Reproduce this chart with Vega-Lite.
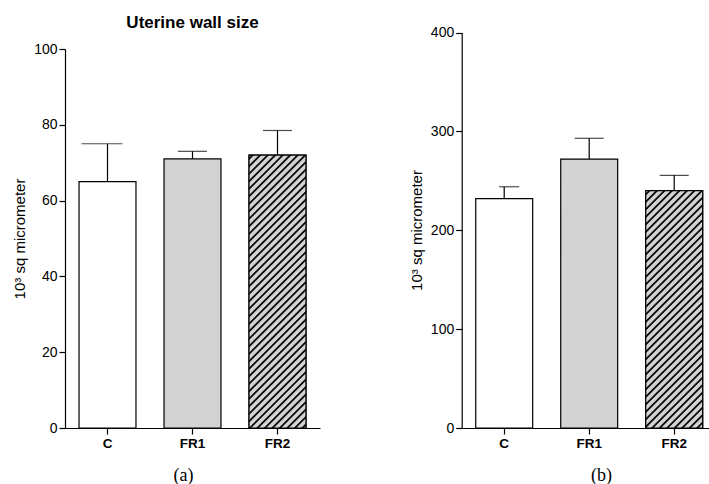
{
"$schema": "https://vega.github.io/schema/vega-lite/v6.json",
"width": 644, "height": 428,
"autosize": {"type": "none"},
"padding": {"left": 65, "top": 0, "right": 0, "bottom": 56},
"background": "white",
"title": {"text": "Uterine wall size", "anchor": "middle", "frame": "group", "dx": -194.5, "dy": 45, "baseline": "alphabetic", "fontSize": 17, "font": "Liberation Sans", "fontWeight": "bold", "color": "#000", "offset": 0},
"data": {"values": [
{"panel": "a", "group": "C", "mean": 65, "upper": 75},
{"panel": "a", "group": "FR1", "mean": 71, "upper": 73},
{"panel": "a", "group": "FR2", "mean": 72, "upper": 78.5},
{"panel": "b", "group": "C", "mean": 232, "upper": 244},
{"panel": "b", "group": "FR1", "mean": 272, "upper": 293},
{"panel": "b", "group": "FR2", "mean": 240, "upper": 255.5}
]},
"config": {"view": {"stroke": null}, "axis": {"grid": false, "domainColor": "#000", "tickColor": "#000", "labelColor": "#000", "titleColor": "#000", "labelFont": "Liberation Sans", "titleFont": "Liberation Sans", "domainWidth": 1.2, "tickWidth": 1.2, "tickSize": 6}},
"layer": [
{
"transform": [{"filter": "datum.panel === 'a'"}],
"encoding": {
"x": {"field": "group", "type": "nominal", "scale": {"domain": ["C", "FR1", "FR2"], "range": [0, 255], "paddingInner": 0.33, "paddingOuter": 0.165}, "axis": {"orient": "bottom", "labelAngle": 0, "labelFontWeight": "bold", "labelFontSize": 13.5, "labelPadding": 2, "title": "(a)", "titleFont": "Liberation Serif", "titleFontSize": 18, "titleFontWeight": "normal", "titleX": 118, "titleY": 52, "titleBaseline": "alphabetic", "titleAlign": "center"}},
"y": {"field": "mean", "type": "quantitative", "scale": {"domain": [0, 100], "range": [428, 49], "nice": false}, "axis": {"orient": "left", "values": [0, 20, 40, 60, 80, 100], "labelFontSize": 14, "labelPadding": 2, "title": "10³ sq micrometer", "titleFontSize": 15, "titleFontWeight": "normal", "titleX": -41, "titleY": 238.5, "titleBaseline": "alphabetic", "titleAlign": "center"}}
},
"layer": [
{"mark": {"type": "bar", "stroke": "#000", "strokeWidth": 1.2}, "encoding": {"fill": {"field": "group", "type": "nominal", "scale": {"domain": ["C", "FR1", "FR2"], "range": ["#ffffff", "#d3d3d3", "#d3d3d3"]}, "legend": null}}},
{"transform": [{"filter": "datum.group === 'FR2'"}], "mark": {"type": "bar", "stroke": "#000", "strokeWidth": 1.2, "fill": {"gradient": "linear", "x1": 0, "y1": 0, "x2": 0.27483, "y2": 1.31688, "stops": [
{"offset":0.005,"color":"#d3d3d3"},{"offset":0.008,"color":"#111"},{"offset":0.012,"color":"#111"},{"offset":0.015,"color":"#d3d3d3"},
{"offset":0.025,"color":"#d3d3d3"},{"offset":0.028,"color":"#111"},{"offset":0.032,"color":"#111"},{"offset":0.035,"color":"#d3d3d3"},
{"offset":0.045,"color":"#d3d3d3"},{"offset":0.048,"color":"#111"},{"offset":0.052,"color":"#111"},{"offset":0.055,"color":"#d3d3d3"},
{"offset":0.065,"color":"#d3d3d3"},{"offset":0.068,"color":"#111"},{"offset":0.072,"color":"#111"},{"offset":0.075,"color":"#d3d3d3"},
{"offset":0.085,"color":"#d3d3d3"},{"offset":0.088,"color":"#111"},{"offset":0.092,"color":"#111"},{"offset":0.095,"color":"#d3d3d3"},
{"offset":0.105,"color":"#d3d3d3"},{"offset":0.108,"color":"#111"},{"offset":0.112,"color":"#111"},{"offset":0.115,"color":"#d3d3d3"},
{"offset":0.125,"color":"#d3d3d3"},{"offset":0.128,"color":"#111"},{"offset":0.132,"color":"#111"},{"offset":0.135,"color":"#d3d3d3"},
{"offset":0.145,"color":"#d3d3d3"},{"offset":0.148,"color":"#111"},{"offset":0.152,"color":"#111"},{"offset":0.155,"color":"#d3d3d3"},
{"offset":0.165,"color":"#d3d3d3"},{"offset":0.168,"color":"#111"},{"offset":0.172,"color":"#111"},{"offset":0.175,"color":"#d3d3d3"},
{"offset":0.185,"color":"#d3d3d3"},{"offset":0.188,"color":"#111"},{"offset":0.192,"color":"#111"},{"offset":0.195,"color":"#d3d3d3"},
{"offset":0.205,"color":"#d3d3d3"},{"offset":0.208,"color":"#111"},{"offset":0.212,"color":"#111"},{"offset":0.215,"color":"#d3d3d3"},
{"offset":0.225,"color":"#d3d3d3"},{"offset":0.228,"color":"#111"},{"offset":0.232,"color":"#111"},{"offset":0.235,"color":"#d3d3d3"},
{"offset":0.245,"color":"#d3d3d3"},{"offset":0.248,"color":"#111"},{"offset":0.252,"color":"#111"},{"offset":0.255,"color":"#d3d3d3"},
{"offset":0.265,"color":"#d3d3d3"},{"offset":0.268,"color":"#111"},{"offset":0.272,"color":"#111"},{"offset":0.275,"color":"#d3d3d3"},
{"offset":0.285,"color":"#d3d3d3"},{"offset":0.288,"color":"#111"},{"offset":0.292,"color":"#111"},{"offset":0.295,"color":"#d3d3d3"},
{"offset":0.305,"color":"#d3d3d3"},{"offset":0.308,"color":"#111"},{"offset":0.312,"color":"#111"},{"offset":0.315,"color":"#d3d3d3"},
{"offset":0.325,"color":"#d3d3d3"},{"offset":0.328,"color":"#111"},{"offset":0.332,"color":"#111"},{"offset":0.335,"color":"#d3d3d3"},
{"offset":0.345,"color":"#d3d3d3"},{"offset":0.348,"color":"#111"},{"offset":0.352,"color":"#111"},{"offset":0.355,"color":"#d3d3d3"},
{"offset":0.365,"color":"#d3d3d3"},{"offset":0.368,"color":"#111"},{"offset":0.372,"color":"#111"},{"offset":0.375,"color":"#d3d3d3"},
{"offset":0.385,"color":"#d3d3d3"},{"offset":0.388,"color":"#111"},{"offset":0.392,"color":"#111"},{"offset":0.395,"color":"#d3d3d3"},
{"offset":0.405,"color":"#d3d3d3"},{"offset":0.408,"color":"#111"},{"offset":0.412,"color":"#111"},{"offset":0.415,"color":"#d3d3d3"},
{"offset":0.425,"color":"#d3d3d3"},{"offset":0.428,"color":"#111"},{"offset":0.432,"color":"#111"},{"offset":0.435,"color":"#d3d3d3"},
{"offset":0.445,"color":"#d3d3d3"},{"offset":0.448,"color":"#111"},{"offset":0.452,"color":"#111"},{"offset":0.455,"color":"#d3d3d3"},
{"offset":0.465,"color":"#d3d3d3"},{"offset":0.468,"color":"#111"},{"offset":0.472,"color":"#111"},{"offset":0.475,"color":"#d3d3d3"},
{"offset":0.485,"color":"#d3d3d3"},{"offset":0.488,"color":"#111"},{"offset":0.492,"color":"#111"},{"offset":0.495,"color":"#d3d3d3"},
{"offset":0.505,"color":"#d3d3d3"},{"offset":0.508,"color":"#111"},{"offset":0.512,"color":"#111"},{"offset":0.515,"color":"#d3d3d3"},
{"offset":0.525,"color":"#d3d3d3"},{"offset":0.528,"color":"#111"},{"offset":0.532,"color":"#111"},{"offset":0.535,"color":"#d3d3d3"},
{"offset":0.545,"color":"#d3d3d3"},{"offset":0.548,"color":"#111"},{"offset":0.552,"color":"#111"},{"offset":0.555,"color":"#d3d3d3"},
{"offset":0.565,"color":"#d3d3d3"},{"offset":0.568,"color":"#111"},{"offset":0.572,"color":"#111"},{"offset":0.575,"color":"#d3d3d3"},
{"offset":0.585,"color":"#d3d3d3"},{"offset":0.588,"color":"#111"},{"offset":0.592,"color":"#111"},{"offset":0.595,"color":"#d3d3d3"},
{"offset":0.605,"color":"#d3d3d3"},{"offset":0.608,"color":"#111"},{"offset":0.612,"color":"#111"},{"offset":0.615,"color":"#d3d3d3"},
{"offset":0.625,"color":"#d3d3d3"},{"offset":0.628,"color":"#111"},{"offset":0.632,"color":"#111"},{"offset":0.635,"color":"#d3d3d3"},
{"offset":0.645,"color":"#d3d3d3"},{"offset":0.648,"color":"#111"},{"offset":0.652,"color":"#111"},{"offset":0.655,"color":"#d3d3d3"},
{"offset":0.665,"color":"#d3d3d3"},{"offset":0.668,"color":"#111"},{"offset":0.672,"color":"#111"},{"offset":0.675,"color":"#d3d3d3"},
{"offset":0.685,"color":"#d3d3d3"},{"offset":0.688,"color":"#111"},{"offset":0.692,"color":"#111"},{"offset":0.695,"color":"#d3d3d3"},
{"offset":0.705,"color":"#d3d3d3"},{"offset":0.708,"color":"#111"},{"offset":0.712,"color":"#111"},{"offset":0.715,"color":"#d3d3d3"},
{"offset":0.725,"color":"#d3d3d3"},{"offset":0.728,"color":"#111"},{"offset":0.732,"color":"#111"},{"offset":0.735,"color":"#d3d3d3"},
{"offset":0.745,"color":"#d3d3d3"},{"offset":0.748,"color":"#111"},{"offset":0.752,"color":"#111"},{"offset":0.755,"color":"#d3d3d3"},
{"offset":0.765,"color":"#d3d3d3"},{"offset":0.768,"color":"#111"},{"offset":0.772,"color":"#111"},{"offset":0.775,"color":"#d3d3d3"},
{"offset":0.785,"color":"#d3d3d3"},{"offset":0.788,"color":"#111"},{"offset":0.792,"color":"#111"},{"offset":0.795,"color":"#d3d3d3"},
{"offset":0.805,"color":"#d3d3d3"},{"offset":0.808,"color":"#111"},{"offset":0.812,"color":"#111"},{"offset":0.815,"color":"#d3d3d3"},
{"offset":0.825,"color":"#d3d3d3"},{"offset":0.828,"color":"#111"},{"offset":0.832,"color":"#111"},{"offset":0.835,"color":"#d3d3d3"},
{"offset":0.845,"color":"#d3d3d3"},{"offset":0.848,"color":"#111"},{"offset":0.852,"color":"#111"},{"offset":0.855,"color":"#d3d3d3"},
{"offset":0.865,"color":"#d3d3d3"},{"offset":0.868,"color":"#111"},{"offset":0.872,"color":"#111"},{"offset":0.875,"color":"#d3d3d3"},
{"offset":0.885,"color":"#d3d3d3"},{"offset":0.888,"color":"#111"},{"offset":0.892,"color":"#111"},{"offset":0.895,"color":"#d3d3d3"}
]}}},
{"mark": {"type": "rule", "color": "#000", "strokeWidth": 1.2}, "encoding": {"y2": {"field": "upper"}}},
{"transform": [{"filter": "datum.group !== 'C'"}], "mark": {"type": "tick", "color": "#000", "thickness": 1.2, "size": 29}, "encoding": {"y": {"field": "upper", "type": "quantitative", "scale": {"domain": [0, 100], "range": [428, 49], "nice": false}, "title": "10³ sq micrometer"}}},
{"transform": [{"filter": "datum.group === 'C'"}], "mark": {"type": "tick", "color": "#000", "thickness": 1.2, "size": 41, "xOffset": -5.5}, "encoding": {"y": {"field": "upper", "type": "quantitative", "scale": {"domain": [0, 100], "range": [428, 49], "nice": false}, "title": "10³ sq micrometer"}}}
]
},
{
"transform": [{"filter": "datum.panel === 'b'"}],
"encoding": {
"x": {"field": "group", "type": "nominal", "scale": {"domain": ["C", "FR1", "FR2"], "range": [396.7, 651.7], "paddingInner": 0.33, "paddingOuter": 0.165}, "axis": {"orient": "bottom", "labelAngle": 0, "labelFontWeight": "bold", "labelFontSize": 13.5, "labelPadding": 2, "title": "(b)", "titleFont": "Liberation Serif", "titleFontSize": 18, "titleFontWeight": "normal", "titleX": 536, "titleY": 52, "titleBaseline": "alphabetic", "titleAlign": "center"}},
"y": {"field": "mean", "type": "quantitative", "scale": {"domain": [0, 400], "range": [428, 32.5], "nice": false}, "axis": {"orient": "left", "offset": -396.7, "values": [0, 100, 200, 300, 400], "labelFontSize": 14, "labelPadding": 2, "title": "10³ sq micrometer", "titleFontSize": 15, "titleFontWeight": "normal", "titleX": -40, "titleY": 230, "titleBaseline": "alphabetic", "titleAlign": "center"}}
},
"layer": [
{"mark": {"type": "bar", "stroke": "#000", "strokeWidth": 1.2}, "encoding": {"fill": {"field": "group", "type": "nominal", "scale": {"domain": ["C", "FR1", "FR2"], "range": ["#ffffff", "#d3d3d3", "#d3d3d3"]}, "legend": null}}},
{"transform": [{"filter": "datum.group === 'FR2'"}], "mark": {"type": "bar", "stroke": "#000", "strokeWidth": 1.2, "fill": {"gradient": "linear", "x1": 0, "y1": 0, "x2": 0.3586, "y2": 1.49422, "stops": [
{"offset":0.005,"color":"#d3d3d3"},{"offset":0.008,"color":"#111"},{"offset":0.012,"color":"#111"},{"offset":0.015,"color":"#d3d3d3"},
{"offset":0.025,"color":"#d3d3d3"},{"offset":0.028,"color":"#111"},{"offset":0.032,"color":"#111"},{"offset":0.035,"color":"#d3d3d3"},
{"offset":0.045,"color":"#d3d3d3"},{"offset":0.048,"color":"#111"},{"offset":0.052,"color":"#111"},{"offset":0.055,"color":"#d3d3d3"},
{"offset":0.065,"color":"#d3d3d3"},{"offset":0.068,"color":"#111"},{"offset":0.072,"color":"#111"},{"offset":0.075,"color":"#d3d3d3"},
{"offset":0.085,"color":"#d3d3d3"},{"offset":0.088,"color":"#111"},{"offset":0.092,"color":"#111"},{"offset":0.095,"color":"#d3d3d3"},
{"offset":0.105,"color":"#d3d3d3"},{"offset":0.108,"color":"#111"},{"offset":0.112,"color":"#111"},{"offset":0.115,"color":"#d3d3d3"},
{"offset":0.125,"color":"#d3d3d3"},{"offset":0.128,"color":"#111"},{"offset":0.132,"color":"#111"},{"offset":0.135,"color":"#d3d3d3"},
{"offset":0.145,"color":"#d3d3d3"},{"offset":0.148,"color":"#111"},{"offset":0.152,"color":"#111"},{"offset":0.155,"color":"#d3d3d3"},
{"offset":0.165,"color":"#d3d3d3"},{"offset":0.168,"color":"#111"},{"offset":0.172,"color":"#111"},{"offset":0.175,"color":"#d3d3d3"},
{"offset":0.185,"color":"#d3d3d3"},{"offset":0.188,"color":"#111"},{"offset":0.192,"color":"#111"},{"offset":0.195,"color":"#d3d3d3"},
{"offset":0.205,"color":"#d3d3d3"},{"offset":0.208,"color":"#111"},{"offset":0.212,"color":"#111"},{"offset":0.215,"color":"#d3d3d3"},
{"offset":0.225,"color":"#d3d3d3"},{"offset":0.228,"color":"#111"},{"offset":0.232,"color":"#111"},{"offset":0.235,"color":"#d3d3d3"},
{"offset":0.245,"color":"#d3d3d3"},{"offset":0.248,"color":"#111"},{"offset":0.252,"color":"#111"},{"offset":0.255,"color":"#d3d3d3"},
{"offset":0.265,"color":"#d3d3d3"},{"offset":0.268,"color":"#111"},{"offset":0.272,"color":"#111"},{"offset":0.275,"color":"#d3d3d3"},
{"offset":0.285,"color":"#d3d3d3"},{"offset":0.288,"color":"#111"},{"offset":0.292,"color":"#111"},{"offset":0.295,"color":"#d3d3d3"},
{"offset":0.305,"color":"#d3d3d3"},{"offset":0.308,"color":"#111"},{"offset":0.312,"color":"#111"},{"offset":0.315,"color":"#d3d3d3"},
{"offset":0.325,"color":"#d3d3d3"},{"offset":0.328,"color":"#111"},{"offset":0.332,"color":"#111"},{"offset":0.335,"color":"#d3d3d3"},
{"offset":0.345,"color":"#d3d3d3"},{"offset":0.348,"color":"#111"},{"offset":0.352,"color":"#111"},{"offset":0.355,"color":"#d3d3d3"},
{"offset":0.365,"color":"#d3d3d3"},{"offset":0.368,"color":"#111"},{"offset":0.372,"color":"#111"},{"offset":0.375,"color":"#d3d3d3"},
{"offset":0.385,"color":"#d3d3d3"},{"offset":0.388,"color":"#111"},{"offset":0.392,"color":"#111"},{"offset":0.395,"color":"#d3d3d3"},
{"offset":0.405,"color":"#d3d3d3"},{"offset":0.408,"color":"#111"},{"offset":0.412,"color":"#111"},{"offset":0.415,"color":"#d3d3d3"},
{"offset":0.425,"color":"#d3d3d3"},{"offset":0.428,"color":"#111"},{"offset":0.432,"color":"#111"},{"offset":0.435,"color":"#d3d3d3"},
{"offset":0.445,"color":"#d3d3d3"},{"offset":0.448,"color":"#111"},{"offset":0.452,"color":"#111"},{"offset":0.455,"color":"#d3d3d3"},
{"offset":0.465,"color":"#d3d3d3"},{"offset":0.468,"color":"#111"},{"offset":0.472,"color":"#111"},{"offset":0.475,"color":"#d3d3d3"},
{"offset":0.485,"color":"#d3d3d3"},{"offset":0.488,"color":"#111"},{"offset":0.492,"color":"#111"},{"offset":0.495,"color":"#d3d3d3"},
{"offset":0.505,"color":"#d3d3d3"},{"offset":0.508,"color":"#111"},{"offset":0.512,"color":"#111"},{"offset":0.515,"color":"#d3d3d3"},
{"offset":0.525,"color":"#d3d3d3"},{"offset":0.528,"color":"#111"},{"offset":0.532,"color":"#111"},{"offset":0.535,"color":"#d3d3d3"},
{"offset":0.545,"color":"#d3d3d3"},{"offset":0.548,"color":"#111"},{"offset":0.552,"color":"#111"},{"offset":0.555,"color":"#d3d3d3"},
{"offset":0.565,"color":"#d3d3d3"},{"offset":0.568,"color":"#111"},{"offset":0.572,"color":"#111"},{"offset":0.575,"color":"#d3d3d3"},
{"offset":0.585,"color":"#d3d3d3"},{"offset":0.588,"color":"#111"},{"offset":0.592,"color":"#111"},{"offset":0.595,"color":"#d3d3d3"},
{"offset":0.605,"color":"#d3d3d3"},{"offset":0.608,"color":"#111"},{"offset":0.612,"color":"#111"},{"offset":0.615,"color":"#d3d3d3"},
{"offset":0.625,"color":"#d3d3d3"},{"offset":0.628,"color":"#111"},{"offset":0.632,"color":"#111"},{"offset":0.635,"color":"#d3d3d3"},
{"offset":0.645,"color":"#d3d3d3"},{"offset":0.648,"color":"#111"},{"offset":0.652,"color":"#111"},{"offset":0.655,"color":"#d3d3d3"},
{"offset":0.665,"color":"#d3d3d3"},{"offset":0.668,"color":"#111"},{"offset":0.672,"color":"#111"},{"offset":0.675,"color":"#d3d3d3"},
{"offset":0.685,"color":"#d3d3d3"},{"offset":0.688,"color":"#111"},{"offset":0.692,"color":"#111"},{"offset":0.695,"color":"#d3d3d3"},
{"offset":0.705,"color":"#d3d3d3"},{"offset":0.708,"color":"#111"},{"offset":0.712,"color":"#111"},{"offset":0.715,"color":"#d3d3d3"},
{"offset":0.725,"color":"#d3d3d3"},{"offset":0.728,"color":"#111"},{"offset":0.732,"color":"#111"},{"offset":0.735,"color":"#d3d3d3"},
{"offset":0.745,"color":"#d3d3d3"},{"offset":0.748,"color":"#111"},{"offset":0.752,"color":"#111"},{"offset":0.755,"color":"#d3d3d3"},
{"offset":0.765,"color":"#d3d3d3"},{"offset":0.768,"color":"#111"},{"offset":0.772,"color":"#111"},{"offset":0.775,"color":"#d3d3d3"},
{"offset":0.785,"color":"#d3d3d3"},{"offset":0.788,"color":"#111"},{"offset":0.792,"color":"#111"},{"offset":0.795,"color":"#d3d3d3"},
{"offset":0.805,"color":"#d3d3d3"},{"offset":0.808,"color":"#111"},{"offset":0.812,"color":"#111"},{"offset":0.815,"color":"#d3d3d3"}
]}}},
{"mark": {"type": "rule", "color": "#000", "strokeWidth": 1.2}, "encoding": {"y2": {"field": "upper"}}},
{"transform": [{"filter": "datum.group !== 'C'"}], "mark": {"type": "tick", "color": "#000", "thickness": 1.2, "size": 29}, "encoding": {"y": {"field": "upper", "type": "quantitative", "scale": {"domain": [0, 400], "range": [428, 32.5], "nice": false}, "title": "10³ sq micrometer"}}},
{"transform": [{"filter": "datum.group === 'C'"}], "mark": {"type": "tick", "color": "#000", "thickness": 1.2, "size": 20, "xOffset": 5}, "encoding": {"y": {"field": "upper", "type": "quantitative", "scale": {"domain": [0, 400], "range": [428, 32.5], "nice": false}, "title": "10³ sq micrometer"}}}
]
}
],
"resolve": {"scale": {"x": "independent", "y": "independent"}, "axis": {"x": "independent", "y": "independent"}}
}
